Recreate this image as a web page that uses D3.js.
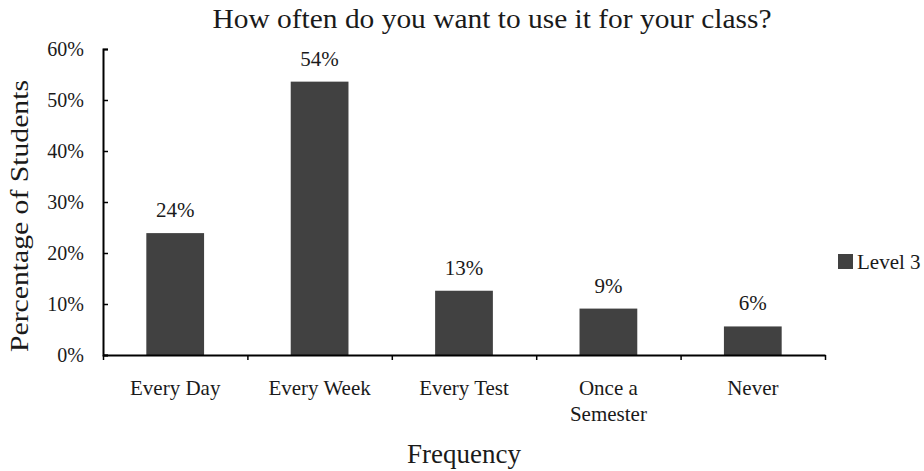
<!DOCTYPE html>
<html><head><meta charset="utf-8">
<script src="https://cdn.jsdelivr.net/npm/d3@7"></script>
<style>body{margin:0;background:#fff}</style>
</head><body>
<svg id="c" width="924" height="471"></svg>
<script>
const categories = ["Every Day", "Every Week", "Every Test", "Once a Semester", "Never"];
const categoryLines = [["Every Day"], ["Every Week"], ["Every Test"], ["Once a", "Semester"], ["Never"]];
const level3 = [0.239, 0.536, 0.126, 0.091, 0.056];
const yTicks = [0, 0.1, 0.2, 0.3, 0.4, 0.5, 0.6];
const seriesName = "Level 3";
const title = "How often do you want to use it for your class?";

const FONT = "'Liberation Serif', 'Times New Roman', serif";
const INK = "#1a1a1a";
const svg = d3.select("#c");
const pLeft = 103, pRight = 825, pTop = 49, pBottom = 355;
const x = d3.scaleBand().domain(categories).range([pLeft, pRight]).paddingInner(0.6).paddingOuter(0.3);
const y = d3.scaleLinear().domain([0, 0.6]).range([pBottom, pTop]);
const fmt = d3.format(".0%");

function txt(sel) { return sel.style("font-family", FONT).attr("fill", INK); }

txt(svg.append("text")).attr("x", 492).attr("y", 28).attr("text-anchor", "middle")
  .attr("font-size", 27).attr("textLength", 559).attr("lengthAdjust", "spacingAndGlyphs").text(title);

// bars
svg.selectAll("rect.bar").data(level3).join("rect").attr("class", "bar")
  .attr("x", (d, i) => x(categories[i])).attr("width", x.bandwidth())
  .attr("y", d => y(d)).attr("height", d => pBottom - y(d)).attr("fill", "#414141");

txt(svg.selectAll("text.val").data(level3).join("text").attr("class", "val"))
  .attr("x", (d, i) => x(categories[i]) + x.bandwidth() / 2).attr("y", d => y(d) - 16)
  .attr("text-anchor", "middle").attr("font-size", 21).text(d => fmt(d));

// y axis
const ya = svg.append("g").attr("transform", `translate(${pLeft},0)`)
  .call(d3.axisLeft(y).tickValues(yTicks).tickFormat(fmt).tickSizeInner(-5).tickSizeOuter(-5).tickPadding(19));
ya.select(".domain").attr("stroke", "#000").attr("stroke-width", 2);
ya.selectAll(".tick line").attr("stroke", "#000").attr("stroke-width", 1.5);
txt(ya.selectAll(".tick text")).attr("font-size", 20);

// x axis
const xs = d3.scaleLinear().domain([0, 5]).range([pLeft, pRight]);
const xa = svg.append("g").attr("transform", `translate(0,${pBottom})`)
  .call(d3.axisBottom(xs).tickValues([0, 1, 2, 3, 4, 5]).tickFormat("").tickSizeInner(5).tickSizeOuter(0));
xa.select(".domain").attr("stroke", "#000").attr("stroke-width", 2);
xa.selectAll(".tick line").attr("stroke", "#000").attr("stroke-width", 1.5);

// x labels
categories.forEach((c, i) => {
  const cx = x(c) + x.bandwidth() / 2;
  const t = txt(svg.append("text")).attr("x", cx).attr("y", 395)
    .attr("text-anchor", "middle").attr("font-size", 21);
  categoryLines[i].forEach((l, j) => t.append("tspan").attr("x", cx).attr("dy", j ? 26 : 0).text(l));
});

txt(svg.append("text")).attr("x", 464).attr("y", 463).attr("text-anchor", "middle").attr("font-size", 27).text("Frequency");
txt(svg.append("text")).attr("transform", "translate(28,216) rotate(-90)").attr("text-anchor", "middle")
  .attr("font-size", 26).attr("textLength", 272).attr("lengthAdjust", "spacingAndGlyphs").text("Percentage of Students");

// legend
svg.append("rect").attr("x", 838).attr("y", 254).attr("width", 15).attr("height", 15).attr("fill", "#414141");
txt(svg.append("text")).attr("x", 857).attr("y", 269).attr("font-size", 21).text(seriesName);
</script>
</body></html>
